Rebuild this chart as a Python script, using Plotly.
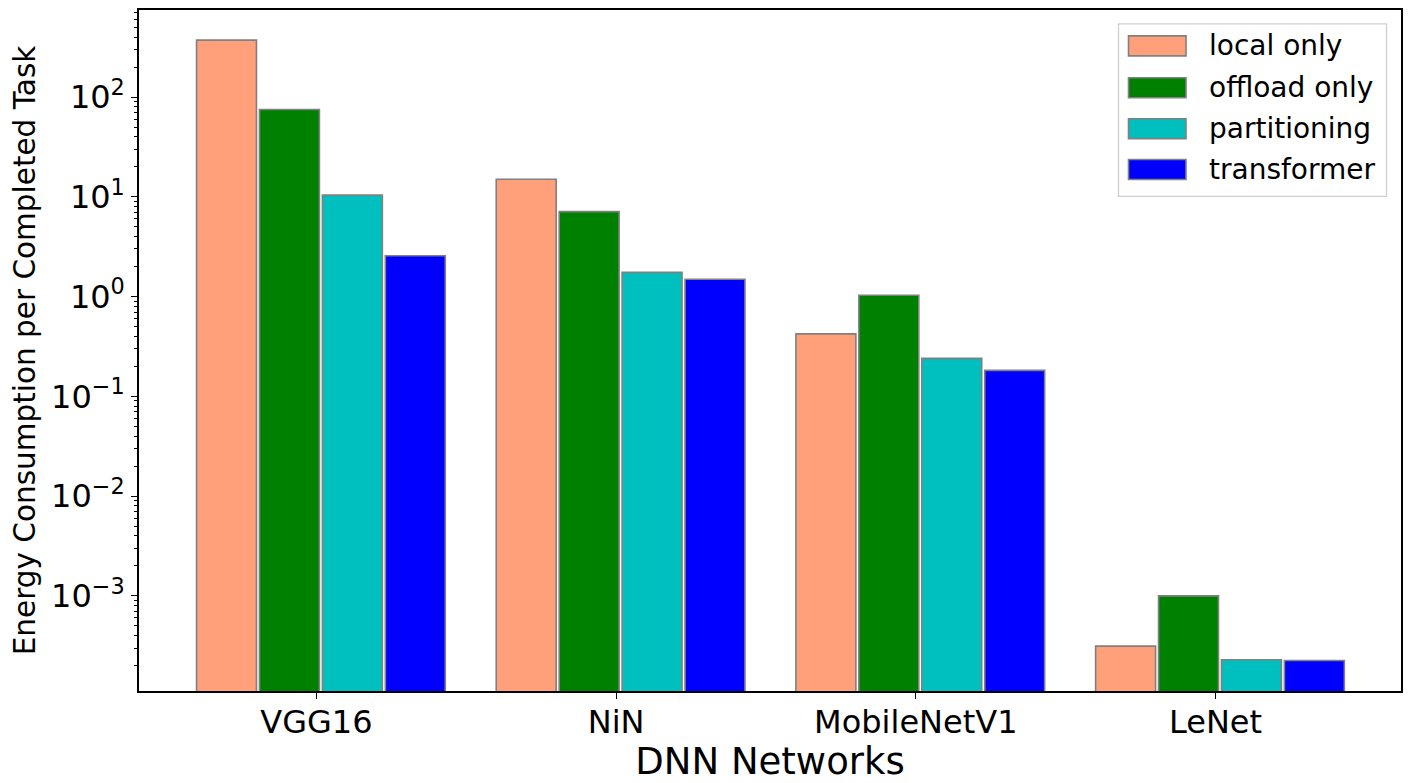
import numpy as np
import plotly.graph_objects as go

# ---- data ----
networks = ["VGG16", "NiN", "MobileNetV1", "LeNet"]
local_only = [372, 15.0, 0.423, 3.13e-4]
offload_only = [75, 7.1, 1.03, 1.0e-3]
partitioning = [10.4, 1.75, 0.24, 2.29e-4]
transformer = [2.57, 1.49, 0.182, 2.25e-4]
series_names = ["local only", "offload only", "partitioning", "transformer"]
series_values = [local_only, offload_only, partitioning, transformer]
series_colors = ["#FFA07A", "#008000", "#00BFBF", "#0000FF"]
bar_offsets = [-0.40, -0.19, 0.02, 0.23]
ytick_values = [1e-3, 1e-2, 1e-1, 1, 10, 100]
ytick_labels = ["10<sup>\u22123</sup>", "10<sup>\u22122</sup>", "10<sup>\u22121</sup>",
                "10<sup>0</sup>", "10<sup>1</sup>", "10<sup>2</sup>"]

# page geometry (the plot div sits at an 8px body margin)
OFF = 8
W, H = 1411 - OFF, 783 - OFF
L, R, T, B = 139, 1401, 8, 691  # plot area in page pixels
FONT = "DejaVu Sans"

fig = go.Figure()
for name, vals, col, off in zip(series_names, series_values, series_colors, bar_offsets):
    fig.add_trace(go.Bar(
        x=networks, y=vals, name=name, width=0.2, offset=off,
        marker=dict(color=col, line=dict(color="#808080", width=1.6)),
        showlegend=False,
    ))

minor_vals = [m * 10.0 ** e for e in range(-4, 3) for m in range(2, 10)]

fig.update_layout(
    width=W, height=H,
    margin=dict(l=L - OFF, r=1411 - R, t=T - OFF, b=783 - B, pad=0),
    paper_bgcolor="white", plot_bgcolor="white",
    barmode="overlay",
    font=dict(family=FONT, color="black"),
    showlegend=False,
)
fig.update_xaxes(
    type="category", range=[-0.592, 3.619],
    showline=True, linecolor="black", linewidth=1.5, mirror=True,
    ticks="outside", ticklen=6, tickwidth=1.3, tickcolor="black",
    ticklabelstandoff=-4,
    tickfont=dict(size=32, family=FONT),
    title=dict(text="DNN Networks", font=dict(size=37, family=FONT), standoff=0),
    showgrid=False, zeroline=False,
)
fig.update_yaxes(
    type="log", range=[-3.954, 2.873],
    showline=True, linecolor="black", linewidth=1.5, mirror=True,
    ticks="outside", ticklen=6, tickwidth=1.3, tickcolor="black",
    tickvals=ytick_values, ticktext=ytick_labels,
    tickfont=dict(size=32, family=FONT),
    minor=dict(ticks="outside", ticklen=3.5, tickwidth=1, tickcolor="black",
               tickvals=minor_vals, showgrid=False),
    title=dict(text="Energy Consumption per Completed Task",
               font=dict(size=29.5, family=FONT), standoff=14),
    showgrid=False, zeroline=False,
)

# ---- legend drawn in page pixels (converted to paper coords) ----
def px(xp):
    return (xp - L) / (R - L)

def py(yp):
    return (B - yp) / (B - T)

shapes = []
annotations = []
shapes.append(dict(type="rect", xref="paper", yref="paper",
                   x0=px(1118.5), x1=px(1386.5), y0=py(195), y1=py(22),
                   line=dict(color="#d0d0d0", width=1.3), fillcolor="rgba(255,255,255,0.8)",
                   layer="above"))
row_centers = [44, 86, 127, 168]
for name, col, yc in zip(series_names, series_colors, row_centers):
    shapes.append(dict(type="rect", xref="paper", yref="paper",
                       x0=px(1128.5), x1=px(1186), y0=py(yc + 10), y1=py(yc - 10),
                       line=dict(color="#808080", width=1.6), fillcolor=col, layer="above"))
    annotations.append(dict(xref="paper", yref="paper", x=px(1207), y=py(yc),
                            xanchor="left", yanchor="middle", text=name, showarrow=False,
                            font=dict(size=28, family=FONT, color="black")))
fig.update_layout(shapes=shapes, annotations=annotations)

fig.write_html("out.html")
